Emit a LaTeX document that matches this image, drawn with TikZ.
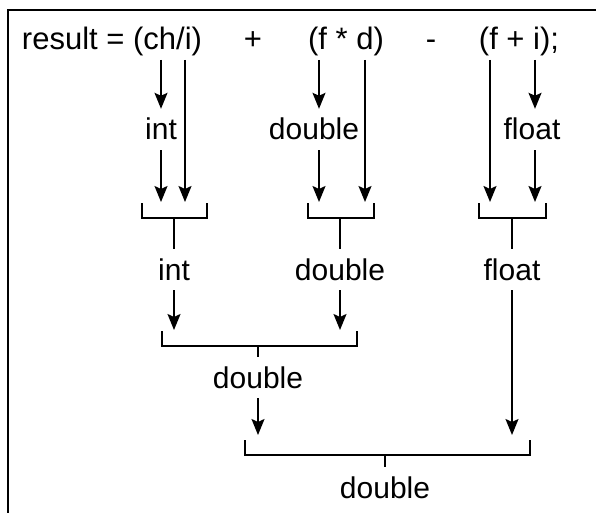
\documentclass[tikz,border=0pt]{standalone}
\usepackage{fontspec}
\setmainfont{Liberation Sans}
\usetikzlibrary{arrows.meta}
\tikzset{
  lbl/.style={font=\fontsize{30}{32}\selectfont, anchor=base, inner xsep=0pt,
    inner ysep=10pt, text height=21pt, text depth=0pt},
  code/.style={lbl, font=\fontsize{31}{33}\selectfont},
  arr/.style={line width=1.7pt, -{Stealth[length=16pt,width=13pt,inset=3pt]}},
  brk/.style={line width=1.4pt},
}
\begin{document}
\begin{tikzpicture}[x=1pt,y=-1pt]
   \useasboundingbox (0,0) rectangle (596,513);
   \draw[line width=2.5pt] (8,513) -- (8,10) -- (596,10);
   % the statement
   \node[code] (stmt) at (112,50) {result = (ch/i)};
   \node[code] (plus) at (253,50) {+};
   \node[code] (fd) at (346,50) {(f * d)};
   \node[code] (minus) at (431,50) {-};
   \node[code] (fi) at (519,50) {(f + i);};
   \coordinate (ch) at (161,60);
   \coordinate (i1) at (185,60);
   \coordinate (f1) at (319,60);
   \coordinate (d1) at (365,60);
   \coordinate (f2) at (490,60);
   \coordinate (i2) at (535,60);
   \coordinate (tipa) at (0,202);
   \coordinate (tipb) at (0,330);
   \coordinate (tipc) at (0,435);
   % first conversions
   \node[lbl] (int1) at (161,140) {int};
   \node[lbl] (dbl1) at (314,140) {double};
   \node[lbl] (flt1) at (532,140) {float};
   \draw[arr] (ch) -- (ch |- int1.north);
   \draw[arr] (f1) -- (f1 |- dbl1.north);
   \draw[arr] (i2) -- (i2 |- flt1.north);
   \draw[arr] (ch |- int1.south) -- (ch |- tipa);
   \draw[arr] (f1 |- dbl1.south) -- (f1 |- tipa);
   \draw[arr] (i2 |- flt1.south) -- (i2 |- tipa);
   \draw[arr] (i1) -- (i1 |- tipa);
   \draw[arr] (d1) -- (d1 |- tipa);
   \draw[arr] (f2) -- (f2 |- tipa);
   % results of the brackets
   \node[lbl] (int2) at (174,280) {int};
   \node[lbl] (dbl2) at (340,280) {double};
   \node[lbl] (flt2) at (512,280) {float};
   \foreach \l/\r/\n in {142/207/int2, 308/374/dbl2, 479/546/flt2} {
     \draw[brk] (\l,203) |- (\r,218) -- (\r,203);
     \draw[brk] (\n.north) -- ++(0,-31);
   }
   \draw[arr] (int2.south) -- (int2.south |- tipb);
   \draw[arr] (dbl2.south) -- (dbl2.south |- tipb);
   \draw[arr] (flt2.south) -- (flt2.south |- tipc);
   % int + double
   \node[lbl] (dbl3) at (258,388) {double};
   \draw[brk] (162,331) |- (357,346) -- (357,331);
   \draw[brk] (dbl3.north) -- ++(0,-11);
   \draw[arr] (dbl3.south) -- (dbl3.south |- tipc);
   % double - float
   \node[lbl] (dbl4) at (385,498) {double};
   \draw[brk] (245,440) |- (530,455) -- (530,440);
   \draw[brk] (dbl4.north) -- ++(0,-12);
\end{tikzpicture}
\end{document}
